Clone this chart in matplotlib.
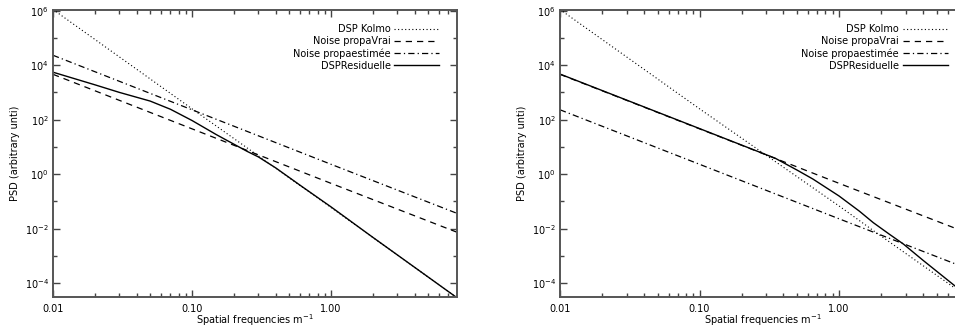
import numpy as np
import matplotlib
matplotlib.use("Agg")
import matplotlib.pyplot as plt
from matplotlib.ticker import FixedLocator, FuncFormatter, NullFormatter

# ---- data ----
# left panel
f_line = [0.01, 0.1, 1.0, 8.0]
kolmo_L = [1.1e6, 2.5e2, 6.0e-2, 3.0e-5]
vrai_L = [4.6e3, 46.0, 0.46, 7.5e-3]
estim_L = [2.3e4, 2.3e2, 2.3, 3.7e-2]
f_res_L = [0.01, 0.02, 0.03, 0.05, 0.07, 0.1, 0.15, 0.2, 0.25, 0.3, 0.4, 0.6, 1.0, 2.0, 4.0, 8.0]
res_L = [5.5e3, 1.9e3, 1.0e3, 4.8e2, 2.4e2, 93.0, 28.0, 12.6, 6.8, 4.3, 1.7, 0.39,
         6.3e-2, 4.8e-3, 3.8e-4, 3.0e-5]

# right panel
f_kolmo_R = [0.01, 0.1, 1.0, 1.76, 8.0]
kolmo_R = [1.1e6, 2.5e2, 6.8e-2, 8.5e-3, 3.6e-5]
vrai_R = [4.6e3, 46.0, 0.46, 7.5e-3]
estim_R = [2.3e2, 2.3, 2.3e-2, 3.7e-4]
f_res_R = [0.01, 0.1, 0.2, 0.35, 0.5, 0.65, 1.0, 1.4, 1.76, 2.3, 2.9, 4.0, 6.8, 8.0]
res_R = [4.7e3, 47.0, 11.7, 3.8, 1.41, 0.66, 0.158, 4.37e-2, 1.66e-2, 6.2e-3,
         2.7e-3, 6.9e-4, 7.8e-5, 4.0e-5]

labels = ["DSP Kolmo", "Noise propaVrai", "Noise propaestimée", "DSPResiduelle"]
x_major = [0.01, 0.1, 1.0]
y_major = [1e-4, 1e-2, 1e0, 1e2, 1e4, 1e6]
y_minor = [1e-3, 1e-1, 1e1, 1e3, 1e5]

plt.rcParams['font.family'] = ['DejaVu Sans']
plt.rcParams['font.size'] = 7
plt.rcParams['mathtext.default'] = 'regular'

fig = plt.figure(figsize=(9.55, 3.29), dpi=100)
axL = fig.add_axes([53/955, 32/329, 403.5/955, 287.5/329])
axR = fig.add_axes([560/955, 32/329, 405/955, 287.5/329])

dot = (0, (1, 2.2))
dash = (0, (5, 4))
dashdot = (0, (5, 2.5, 1, 2.5))


def draw_panel(ax, fk, kolmo, vrai, estim, fr, res):
    ax.plot(fk, kolmo, color='black', lw=0.8, linestyle=dot, label=labels[0])
    ax.plot(f_line, vrai, color='black', lw=0.9, linestyle=dash, label=labels[1])
    ax.plot(f_line, estim, color='black', lw=0.9, linestyle=dashdot, label=labels[2])
    ax.plot(fr, res, color='black', lw=1.0, linestyle='-', label=labels[3])

    ax.set_xscale('log')
    ax.set_yscale('log')
    ax.set_xlim(0.01, 8.0)
    ax.set_ylim(3.1e-5, 1.1e6)

    ax.xaxis.set_major_locator(FixedLocator(x_major))
    ax.xaxis.set_major_formatter(FuncFormatter(lambda v, p: "%.2f" % v))
    ax.xaxis.set_minor_locator(FixedLocator(
        [m * d for d in [0.01, 0.1, 1.0] for m in range(2, 10) if m * d < 8.0]))
    ax.xaxis.set_minor_formatter(NullFormatter())
    ax.yaxis.set_major_locator(FixedLocator(y_major))
    ax.yaxis.set_major_formatter(FuncFormatter(lambda v, p: r"$10^{%d}$" % round(np.log10(v))))
    ax.yaxis.set_minor_locator(FixedLocator(y_minor))
    ax.yaxis.set_minor_formatter(NullFormatter())

    ax.tick_params(which='both', direction='in', top=True, right=True,
                   color='#444444', width=1.0)
    ax.tick_params(which='major', length=5)
    ax.tick_params(which='minor', length=3)
    ax.tick_params(axis='x', which='major', pad=5)
    ax.tick_params(axis='y', which='major', pad=3)
    for s in ax.spines.values():
        s.set_color('#555555')
        s.set_linewidth(1.4)

    ax.set_xlabel("Spatial frequencies m$^{-1}$", labelpad=-1.5)
    ax.set_ylabel("PSD (arbitrary unti)", labelpad=3)

    ax.legend(loc='upper right', bbox_to_anchor=(0.957, 0.948), frameon=False,
              markerfirst=False, handlelength=4.6, handletextpad=0.4,
              labelspacing=0.2, borderpad=0, borderaxespad=0)


draw_panel(axL, f_line, kolmo_L, vrai_L, estim_L, f_res_L, res_L)
draw_panel(axR, f_kolmo_R, kolmo_R, vrai_R, estim_R, f_res_R, res_R)

fig.savefig("out.png", dpi=100)
